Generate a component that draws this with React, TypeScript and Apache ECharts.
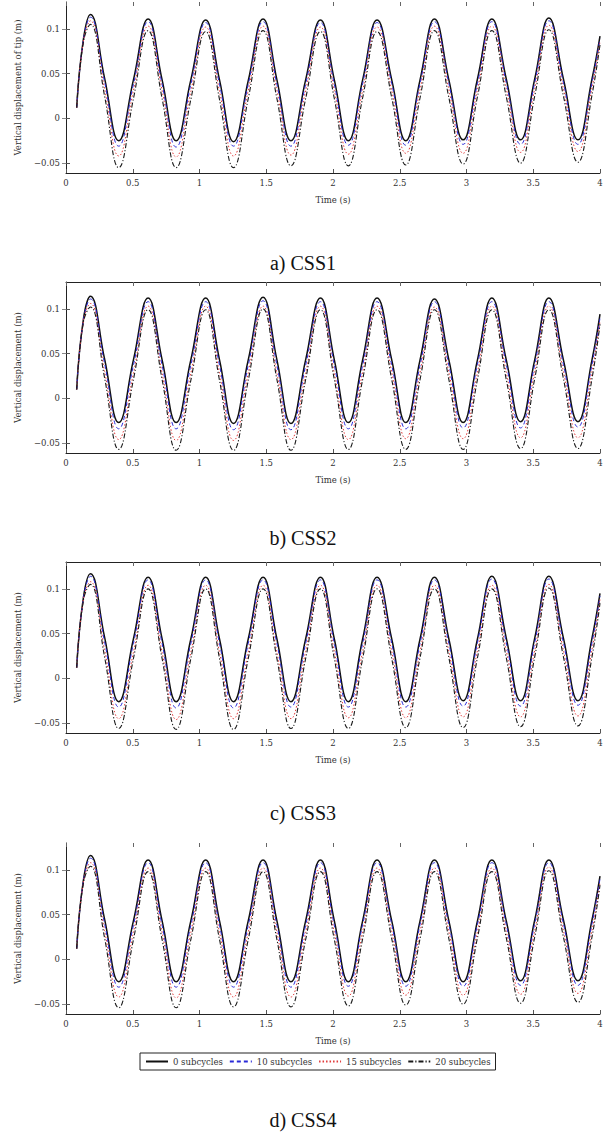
import React, { useEffect, useRef } from "react";
import * as echarts from "echarts";

// time samples (s): start, then peak / mid / trough / mid per cycle
const T = [0.08, 0.13, 0.183, 0.289, 0.395, 0.505, 0.615, 0.72, 0.825, 0.935, 1.046, 1.15, 1.255, 1.365, 1.476, 1.58, 1.685, 1.795, 1.906, 2.01, 2.115, 2.222, 2.33, 2.44, 2.545, 2.652, 2.76, 2.868, 2.975, 3.082, 3.19, 3.298, 3.405, 3.511, 3.617, 3.726, 3.835, 3.94, 4.0];

const SERIES_NAMES = ["0 subcycles", "10 subcycles", "15 subcycles", "20 subcycles"];
const Y_TICKS = [-0.05, 0, 0.05, 0.1];
const CAPTIONS = ["a) CSS1", "b) CSS2", "c) CSS3", "d) CSS4"];
const Y_TITLES = ["Vertical displacement of tip (m)", "Vertical displacement (m)", "Vertical displacement (m)", "Vertical displacement (m)"];

// Panel a) CSS1
const A0 = [0.012, 0.088, 0.116, 0.045, -0.025, 0.043, 0.111, 0.043, -0.025, 0.043, 0.110, 0.043, -0.026, 0.042, 0.111, 0.043, -0.025, 0.043, 0.110, 0.043, -0.025, 0.043, 0.110, 0.043, -0.025, 0.043, 0.111, 0.043, -0.024, 0.044, 0.111, 0.044, -0.024, 0.044, 0.112, 0.044, -0.024, 0.044, 0.092];
const A1 = [0.012, 0.087, 0.113, 0.041, -0.031, 0.038, 0.108, 0.038, -0.032, 0.038, 0.107, 0.038, -0.031, 0.038, 0.108, 0.038, -0.031, 0.038, 0.107, 0.038, -0.030, 0.039, 0.107, 0.039, -0.030, 0.039, 0.108, 0.039, -0.029, 0.039, 0.108, 0.040, -0.029, 0.040, 0.109, 0.040, -0.029, 0.040, 0.089];
const A2 = [0.012, 0.086, 0.109, 0.033, -0.042, 0.031, 0.103, 0.031, -0.043, 0.030, 0.102, 0.030, -0.042, 0.031, 0.103, 0.031, -0.041, 0.031, 0.102, 0.031, -0.040, 0.031, 0.102, 0.031, -0.039, 0.032, 0.103, 0.032, -0.039, 0.032, 0.103, 0.033, -0.038, 0.033, 0.104, 0.033, -0.037, 0.034, 0.086];
const A3 = [0.012, 0.085, 0.105, 0.025, -0.055, 0.022, 0.098, 0.022, -0.055, 0.021, 0.097, 0.021, -0.055, 0.022, 0.098, 0.022, -0.053, 0.022, 0.097, 0.022, -0.053, 0.023, 0.097, 0.023, -0.052, 0.023, 0.098, 0.023, -0.051, 0.024, 0.098, 0.024, -0.050, 0.025, 0.099, 0.025, -0.049, 0.026, 0.082];

// Panel b) CSS2
const B0 = [0.010, 0.088, 0.114, 0.044, -0.027, 0.043, 0.112, 0.043, -0.027, 0.043, 0.112, 0.043, -0.028, 0.043, 0.113, 0.043, -0.028, 0.043, 0.112, 0.043, -0.027, 0.043, 0.112, 0.043, -0.027, 0.043, 0.111, 0.043, -0.027, 0.043, 0.112, 0.043, -0.026, 0.043, 0.112, 0.043, -0.026, 0.043, 0.094];
const B1 = [0.010, 0.087, 0.111, 0.039, -0.034, 0.037, 0.108, 0.037, -0.034, 0.037, 0.108, 0.037, -0.035, 0.037, 0.109, 0.037, -0.035, 0.037, 0.108, 0.037, -0.034, 0.037, 0.108, 0.037, -0.034, 0.037, 0.108, 0.037, -0.033, 0.038, 0.108, 0.038, -0.033, 0.038, 0.108, 0.038, -0.032, 0.038, 0.090];
const B2 = [0.010, 0.086, 0.106, 0.030, -0.046, 0.028, 0.103, 0.028, -0.047, 0.028, 0.103, 0.028, -0.047, 0.028, 0.103, 0.028, -0.046, 0.028, 0.103, 0.028, -0.046, 0.029, 0.103, 0.029, -0.045, 0.029, 0.102, 0.029, -0.045, 0.029, 0.103, 0.029, -0.044, 0.030, 0.103, 0.030, -0.044, 0.030, 0.086];
const B3 = [0.010, 0.085, 0.102, 0.023, -0.057, 0.021, 0.099, 0.021, -0.058, 0.020, 0.099, 0.020, -0.058, 0.020, 0.100, 0.021, -0.058, 0.021, 0.099, 0.021, -0.057, 0.021, 0.099, 0.021, -0.057, 0.021, 0.099, 0.021, -0.057, 0.021, 0.099, 0.021, -0.056, 0.022, 0.099, 0.022, -0.056, 0.022, 0.083];

// Panel c) CSS3
const C0 = [0.012, 0.090, 0.117, 0.046, -0.026, 0.044, 0.113, 0.044, -0.026, 0.044, 0.113, 0.044, -0.026, 0.044, 0.113, 0.044, -0.026, 0.044, 0.113, 0.044, -0.026, 0.044, 0.113, 0.044, -0.026, 0.044, 0.113, 0.044, -0.025, 0.044, 0.114, 0.045, -0.025, 0.045, 0.114, 0.045, -0.025, 0.045, 0.095];
const C1 = [0.012, 0.089, 0.114, 0.041, -0.032, 0.039, 0.110, 0.039, -0.033, 0.039, 0.110, 0.039, -0.033, 0.039, 0.110, 0.039, -0.032, 0.039, 0.110, 0.039, -0.032, 0.039, 0.110, 0.039, -0.032, 0.039, 0.110, 0.039, -0.031, 0.040, 0.111, 0.040, -0.031, 0.040, 0.111, 0.040, -0.030, 0.040, 0.092];
const C2 = [0.012, 0.088, 0.108, 0.032, -0.045, 0.029, 0.104, 0.029, -0.046, 0.029, 0.104, 0.029, -0.045, 0.029, 0.104, 0.029, -0.045, 0.030, 0.104, 0.030, -0.044, 0.030, 0.104, 0.030, -0.044, 0.030, 0.104, 0.030, -0.043, 0.031, 0.104, 0.031, -0.043, 0.031, 0.105, 0.031, -0.042, 0.032, 0.088];
const C3 = [0.012, 0.087, 0.105, 0.024, -0.056, 0.022, 0.100, 0.022, -0.057, 0.022, 0.100, 0.022, -0.057, 0.022, 0.100, 0.022, -0.056, 0.022, 0.100, 0.022, -0.056, 0.022, 0.100, 0.022, -0.055, 0.023, 0.100, 0.023, -0.055, 0.023, 0.100, 0.023, -0.054, 0.024, 0.101, 0.024, -0.053, 0.024, 0.084];

// Panel d) CSS4
const D0 = [0.012, 0.088, 0.116, 0.045, -0.025, 0.043, 0.111, 0.043, -0.025, 0.043, 0.111, 0.043, -0.025, 0.043, 0.111, 0.043, -0.025, 0.043, 0.111, 0.043, -0.025, 0.043, 0.111, 0.043, -0.025, 0.043, 0.111, 0.043, -0.025, 0.043, 0.111, 0.043, -0.024, 0.044, 0.111, 0.044, -0.024, 0.044, 0.093];
const D1 = [0.012, 0.087, 0.113, 0.040, -0.031, 0.038, 0.108, 0.038, -0.031, 0.038, 0.108, 0.038, -0.031, 0.038, 0.108, 0.038, -0.031, 0.038, 0.108, 0.038, -0.030, 0.039, 0.108, 0.039, -0.030, 0.039, 0.108, 0.039, -0.030, 0.039, 0.108, 0.039, -0.029, 0.040, 0.108, 0.040, -0.029, 0.040, 0.090];
const D2 = [0.012, 0.086, 0.108, 0.032, -0.042, 0.030, 0.102, 0.030, -0.043, 0.030, 0.102, 0.030, -0.042, 0.030, 0.102, 0.030, -0.042, 0.030, 0.102, 0.030, -0.041, 0.031, 0.102, 0.031, -0.040, 0.031, 0.102, 0.031, -0.040, 0.031, 0.102, 0.031, -0.039, 0.032, 0.103, 0.032, -0.038, 0.032, 0.086];
const D3 = [0.012, 0.085, 0.104, 0.024, -0.054, 0.022, 0.098, 0.022, -0.054, 0.022, 0.098, 0.022, -0.053, 0.022, 0.098, 0.022, -0.053, 0.022, 0.098, 0.022, -0.052, 0.023, 0.098, 0.023, -0.051, 0.023, 0.098, 0.023, -0.050, 0.024, 0.098, 0.024, -0.049, 0.025, 0.099, 0.025, -0.048, 0.025, 0.083];

const PANELS = [
  [A0, A1, A2, A3],
  [B0, B1, B2, B3],
  [C0, C1, C2, C3],
  [D0, D1, D2, D3],
];

const GRID_TOPS = [2, 282, 562, 843];
const GRID_HEIGHT = 171;
const CAPTION_Y = [263, 538, 813, 1120];
const TOP_LINE = [false, true, true, false];
const Y_MIN = -0.061;
const Y_MAX = 0.13;

const LINE_STYLES = [
  { color: "#111111", width: 1.5, type: "solid" },
  { color: "#2a2ad8", width: 1, type: [4, 3] },
  { color: "#e03a3a", width: 1, type: [1.5, 2] },
  { color: "#1a1a1a", width: 1.1, type: [5, 2, 1.2, 2] },
];

const SERIF = "'DejaVu Serif', serif";

function fmtY(v: number) {
  if (v < 0) return "\u2212" + String(Math.round(-v * 1000) / 1000);
  return String(Math.round(v * 1000) / 1000);
}

export default function App() {
  const ref = useRef<HTMLDivElement>(null);
  useEffect(() => {
    if (!ref.current) return;
    const chart = echarts.init(ref.current, undefined, { renderer: "svg" });
    const grids: any[] = [];
    const xAxes: any[] = [];
    const yAxes: any[] = [];
    const series: any[] = [];
    const graphics: any[] = [];
    PANELS.forEach((panel, i) => {
      grids.push({ left: 66, width: 534, top: GRID_TOPS[i], height: GRID_HEIGHT });
      xAxes.push({
        type: "value", gridIndex: i, position: "bottom", min: 0, max: 4, interval: 0.5,
        axisLine: { show: true, onZero: false, lineStyle: { color: "#222", width: 1 } },
        axisTick: { show: true, inside: true, length: 4, lineStyle: { color: "#555" } },
        axisLabel: { show: true, color: "#333", fontSize: 8.5, fontFamily: SERIF, margin: 5 },
        splitLine: { show: false },
        name: "Time (s)", nameLocation: "middle", nameGap: 22,
        nameTextStyle: { color: "#333", fontSize: 8.5, fontFamily: SERIF },
      });
      xAxes.push({
        type: "value", gridIndex: i, position: "top", min: 0, max: 4, interval: 0.5,
        axisLine: { show: TOP_LINE[i], onZero: false, lineStyle: { color: "#222", width: 1 } },
        axisTick: { show: true, inside: true, length: 4, lineStyle: { color: "#666" } },
        axisLabel: { show: false },
        splitLine: { show: false },
      });
      yAxes.push({
        type: "value", gridIndex: i, position: "left", min: Y_MIN, max: Y_MAX,
        axisLine: { show: true, onZero: false, lineStyle: { color: "#222", width: 1 } },
        axisTick: { show: true, inside: true, length: 4, customValues: Y_TICKS, lineStyle: { color: "#555" } },
        axisLabel: { show: true, customValues: Y_TICKS, formatter: fmtY, color: "#333", fontSize: 8.5, fontFamily: SERIF, margin: 6 },
        splitLine: { show: false },
        name: Y_TITLES[i], nameLocation: "middle", nameGap: 44,
        nameTextStyle: { color: "#333", fontSize: 8.5, fontFamily: SERIF },
      });
      yAxes.push({
        type: "value", gridIndex: i, position: "right", min: Y_MIN, max: Y_MAX,
        axisLine: { show: false },
        axisTick: { show: true, inside: true, length: 4, customValues: Y_TICKS, lineStyle: { color: "#888" } },
        axisLabel: { show: false },
        splitLine: { show: false },
      });
      panel.forEach((vals, k) => {
        series.push({
          type: "line",
          name: SERIES_NAMES[k],
          xAxisIndex: 2 * i,
          yAxisIndex: 2 * i,
          data: T.map((t, j) => [t, vals[j]]),
          smooth: 0.45,
          symbol: "none",
          showSymbol: false,
          lineStyle: { ...LINE_STYLES[k] },
          itemStyle: { color: LINE_STYLES[k].color },
          z: 2 + k,
        });
      });
      graphics.push({
        type: "text",
        x: 303,
        y: CAPTION_Y[i],
        style: {
          text: CAPTIONS[i],
          font: "20px 'Liberation Serif', serif",
          fill: "#111",
          align: "center",
          verticalAlign: "middle",
          textAlign: "center",
          textVerticalAlign: "middle",
        },
      });
    });
    chart.setOption({
      animation: false,
      backgroundColor: "#ffffff",
      grid: grids,
      xAxis: xAxes,
      yAxis: yAxes,
      series,
      legend: {
        show: true,
        data: SERIES_NAMES,
        left: 140,
        top: 1053,
        orient: "horizontal",
        itemWidth: 22,
        itemHeight: 8,
        itemGap: 6,
        padding: [4, 5],
        borderColor: "#222",
        borderWidth: 1,
        selectedMode: false,
        itemStyle: { opacity: 0 },
        textStyle: { fontSize: 8.5, fontFamily: SERIF, color: "#333" },
      },
      graphic: graphics,
    });
    return () => chart.dispose();
  }, []);
  return <div ref={ref} style={{ position: "absolute", left: 0, top: 0, width: 606, height: 1147 }} />;
}
